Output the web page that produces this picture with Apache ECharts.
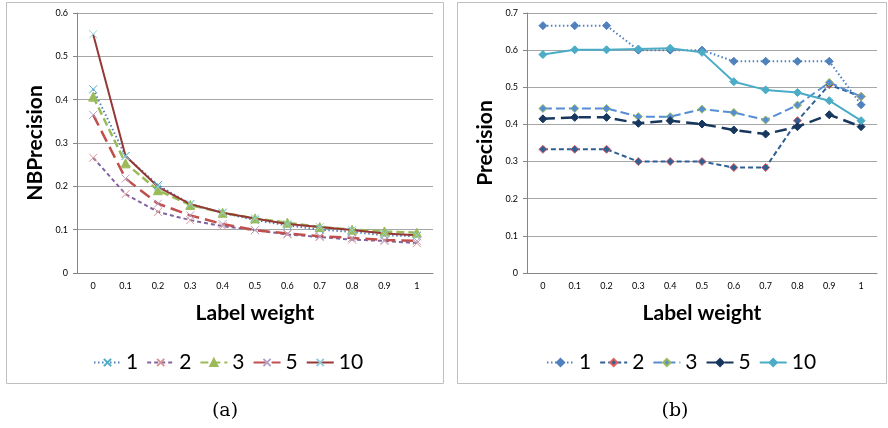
<!DOCTYPE html>
<html>
<head>
<meta charset="utf-8">
<script src="https://cdn.jsdelivr.net/npm/echarts@6/dist/echarts.min.js"></script>
<style>html,body{margin:0;padding:0;background:#fff}#c{width:888px;height:428px}</style>
</head>
<body>
<div id="c"></div>
<script>
// ---- data ----
const categories = ['0','0.1','0.2','0.3','0.4','0.5','0.6','0.7','0.8','0.9','1'];
const seriesNames = ['1','2','3','5','10'];
// (a) NBPrecision
const nb1  = [0.424,0.270,0.203,0.159,0.139,0.122,0.110,0.100,0.095,0.087,0.085];
const nb2  = [0.266,0.182,0.141,0.122,0.108,0.099,0.089,0.083,0.077,0.074,0.069];
const nb3  = [0.407,0.253,0.191,0.157,0.139,0.126,0.116,0.106,0.100,0.096,0.093];
const nb5  = [0.365,0.218,0.160,0.133,0.113,0.099,0.091,0.085,0.081,0.076,0.074];
const nb10 = [0.551,0.270,0.199,0.159,0.139,0.126,0.113,0.106,0.099,0.091,0.087];
// (b) Precision
const p1  = [0.666,0.666,0.666,0.600,0.600,0.600,0.570,0.570,0.570,0.570,0.453];
const p2  = [0.333,0.333,0.333,0.300,0.300,0.300,0.284,0.284,0.410,0.507,0.475];
const p3  = [0.443,0.443,0.443,0.421,0.421,0.441,0.432,0.412,0.452,0.513,0.475];
const p5  = [0.415,0.419,0.419,0.403,0.410,0.401,0.385,0.374,0.394,0.426,0.394];
const p10 = [0.588,0.601,0.601,0.603,0.605,0.594,0.515,0.493,0.486,0.464,0.410];
const leftAxisMax = 0.6, rightAxisMax = 0.7, axisStep = 0.1;

const FONT = 'Lato, "Open Sans", sans-serif';
const cross = 'path://M0,0L10,10M10,0L0,10';

function xAxis(gi){
  return {
    type:'category', gridIndex:gi, data:categories, boundaryGap:true,
    axisLine:{lineStyle:{color:'#868686',width:1}},
    axisTick:{length:4,lineStyle:{color:'#868686'}},
    axisLabel:{fontSize:9,color:'#000',margin:9,fontFamily:FONT,interval:0},
    name:'Label weight', nameLocation:'middle', nameGap:30,
    nameTextStyle:{fontSize:21,fontWeight:'bold',color:'#000',fontFamily:FONT}
  };
}
function yAxis(gi,max,name){
  return {
    type:'value', gridIndex:gi, min:0, max:max, interval:axisStep,
    axisLine:{show:true,lineStyle:{color:'#868686',width:1}},
    axisTick:{show:true,length:4,lineStyle:{color:'#868686'}},
    splitLine:{lineStyle:{color:'#a6a6a6',width:1}},
    axisLabel:{fontSize:9,color:'#000',margin:9,fontFamily:FONT,
      formatter:v=> v===0?'0':v.toFixed(1)},
    name:name, nameLocation:'middle', nameGap:31, nameRotate:90,
    nameTextStyle:{fontSize:21,fontWeight:'bold',color:'#000',fontFamily:FONT}
  };
}
function line(name,gi,data,lineColor,dash,width,symbol,symSize,fill,border){
  return {
    type:'line', name:name, xAxisIndex:gi, yAxisIndex:gi, data:data,
    symbol:symbol, symbolSize:symSize, showSymbol:true, animation:false,
    lineStyle:{color:lineColor,width:width,type:dash,cap:'butt'},
    itemStyle:{color:fill,borderColor:border,borderWidth:1},
    z: 2
  };
}

const series = [
  line('a1',0,nb1,'#4f81bd',[1.5,2.5],2,cross,8,'none','#4bacc6'),
  line('a2',0,nb2,'#8064a2',[4,3],2,cross,8,'none','#d99694'),
  line('a3',0,nb3,'#9bbb59',[8,4],2.5,'triangle',9,'#9bbb59','#9bbb59'),
  line('a5',0,nb5,'#c0504d',[12,6],2.5,cross,8,'none','#b3a2c7'),
  line('a10',0,nb10,'#953735','solid',2,cross,8,'none','#93cddd'),
  line('b1',1,p1,'#4f81bd',[1.5,2.5],2,'diamond',8,'#4f81bd','#4f81bd'),
  line('b2',1,p2,'#2f5f93',[5,3],2,'diamond',8,'#2f5f93','#e06060'),
  line('b3',1,p3,'#558ed5',[9,4],2,'diamond',8,'#558ed5','#9bbb59'),
  line('b5',1,p5,'#17375e',[12,6],2.5,'diamond',8,'#17375e','#17375e'),
  line('b10',1,p10,'#4bacc6','solid',2,'diamond',8,'#4bacc6','#4bacc6')
];

function legend(prefix,left){
  return {
    data: seriesNames.map(n=>prefix+n),
    formatter: n=>n.slice(1),
    left:left, top:347, itemWidth:27, itemHeight:9, itemGap:8,
    textStyle:{fontSize:21,color:'#000',fontFamily:FONT},
    selectedMode:false
  };
}

const chart = echarts.init(document.getElementById('c'));
chart.setOption({
  backgroundColor:'#fff',
  animation:false,
  grid:[
    {left:77,top:13,width:356,height:260},
    {left:527,top:13,width:350,height:260}
  ],
  xAxis:[xAxis(0),xAxis(1)],
  yAxis:[yAxis(0,leftAxisMax,'NBPrecision'),yAxis(1,rightAxisMax,'Precision')],
  legend:[legend('a',88),legend('b',541)],
  series:series,
  graphic:[
    {type:'rect',shape:{x:6.5,y:2.5,width:437,height:381},style:{fill:'none',stroke:'#bfbfbf',lineWidth:1},silent:true},
    {type:'rect',shape:{x:457.5,y:2.5,width:429,height:381},style:{fill:'none',stroke:'#bfbfbf',lineWidth:1},silent:true},
    {type:'text',x:225,y:411,style:{text:'(a)',fontSize:19,fontFamily:'"DejaVu Serif", "Liberation Serif", serif',fill:'#000',align:'center',verticalAlign:'middle'}},
    {type:'text',x:675,y:411,style:{text:'(b)',fontSize:19,fontFamily:'"DejaVu Serif", "Liberation Serif", serif',fill:'#000',align:'center',verticalAlign:'middle'}}
  ]
});
</script>
</body>
</html>
